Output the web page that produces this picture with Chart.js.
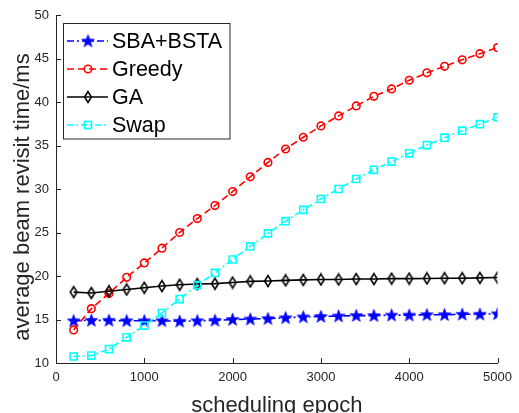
<!DOCTYPE html>
<html>
<head>
<meta charset="utf-8">
<script src="https://cdn.jsdelivr.net/npm/chart.js@4/dist/chart.umd.min.js"></script>
<style>
  html, body { margin: 0; padding: 0; background: #ffffff; }
  #wrap { width: 519px; height: 413px; }
</style>
</head>
<body>
<div id="wrap"><canvas id="c" width="519" height="413"></canvas></div>
<script>
// ---------- data ----------
const epochs = [200, 400, 600, 800, 1000, 1200, 1400, 1600, 1800, 2000, 2200, 2400, 2600,
                2800, 3000, 3200, 3400, 3600, 3800, 4000, 4200, 4400, 4600, 4800, 5000];
const sbaBsta = [14.85, 14.9, 14.9, 14.85, 14.85, 14.85, 14.8, 14.85, 14.9, 15.0, 15.05, 15.1, 15.2,
                 15.3, 15.35, 15.4, 15.45, 15.45, 15.5, 15.5, 15.55, 15.55, 15.6, 15.6, 15.65];
const greedy = [13.8, 16.25, 18.0, 19.85, 21.5, 23.2, 25.0, 26.6, 28.1, 29.7, 31.4, 33.05, 34.6,
                35.95, 37.25, 38.4, 39.55, 40.65, 41.5, 42.5, 43.35, 44.1, 44.85, 45.55, 46.25];
const ga = [18.15, 18.05, 18.25, 18.45, 18.65, 18.85, 19.0, 19.08, 19.12, 19.25, 19.38, 19.43, 19.5,
            19.55, 19.6, 19.6, 19.65, 19.65, 19.7, 19.7, 19.72, 19.75, 19.75, 19.78, 19.82];
const swap = [10.75, 10.85, 11.6, 12.95, 14.3, 15.75, 17.35, 18.95, 20.35, 21.9, 23.4, 24.9, 26.3,
              27.6, 28.85, 30.0, 31.15, 32.2, 33.15, 34.1, 35.05, 35.9, 36.7, 37.45, 38.25];
const seriesNames = ['SBA+BSTA', 'Greedy', 'GA', 'Swap'];
const xTicks = [0, 1000, 2000, 3000, 4000, 5000];
const yTicks = [10, 15, 20, 25, 30, 35, 40, 45, 50];
const xTitle = 'scheduling epoch';
const yTitle = 'average beam revisit time/ms';

// ---------- marker images ----------
function starImage(color) {
  const c = document.createElement('canvas');
  c.width = 15; c.height = 15;
  const g = c.getContext('2d');
  const cx = 7.5, cy = 7.9, R = 6.6, r = 2.7;
  g.beginPath();
  for (let i = 0; i < 10; i++) {
    const a = -Math.PI / 2 + i * Math.PI / 5;
    const rr = i % 2 === 0 ? R : r;
    const px = cx + rr * Math.cos(a), py = cy + rr * Math.sin(a);
    if (i === 0) g.moveTo(px, py); else g.lineTo(px, py);
  }
  g.closePath();
  g.fillStyle = color; g.fill();
  g.strokeStyle = color; g.lineWidth = 0.8; g.stroke();
  return c;
}
function diamondImage(color) {
  const c = document.createElement('canvas');
  c.width = 12; c.height = 14;
  const g = c.getContext('2d');
  g.beginPath();
  g.moveTo(6, 1.6); g.lineTo(9.4, 7); g.lineTo(6, 12.4); g.lineTo(2.6, 7); g.closePath();
  g.strokeStyle = color; g.lineWidth = 1.6; g.stroke();
  return c;
}
const starImg = starImage('#0000ff');
const diamondImg = diamondImage('#000000');

function pts(ys) { return epochs.map((x, i) => ({ x: x, y: ys[i] })); }

const FONT = '"Liberation Sans", Arial, Helvetica, sans-serif';
const TXT = '#262626';
const CLEAR = 'rgba(0,0,0,0)';

// ---------- plugins ----------
const inwardTicks = {
  id: 'inwardTicks',
  afterDraw(chart) {
    const { ctx, chartArea: a, scales: { x, y } } = chart;
    ctx.save();
    ctx.strokeStyle = TXT; ctx.lineWidth = 1;
    ctx.beginPath();
    xTicks.forEach(v => { const p = Math.round(x.getPixelForValue(v)) + 0.5; ctx.moveTo(p, a.bottom); ctx.lineTo(p, a.bottom - 5); });
    yTicks.forEach(v => { const p = Math.round(y.getPixelForValue(v)) + 0.5; ctx.moveTo(a.left, p); ctx.lineTo(a.left + 5, p); });
    ctx.stroke();
    // y-axis title (placed slightly below the plot centre, as in the reference)
    ctx.fillStyle = TXT;
    ctx.font = '22px ' + FONT;
    ctx.textAlign = 'center';
    ctx.textBaseline = 'middle';
    ctx.translate(23, 197);
    ctx.rotate(-Math.PI / 2);
    ctx.fillText(yTitle, 0, 0);
    ctx.restore();
  }
};

const boxLegend = {
  id: 'boxLegend',
  afterDraw(chart) {
    const ctx = chart.ctx;
    const bx = 63.5, by = 23.5, bw = 166.5, bh = 115.5;
    ctx.save();
    ctx.fillStyle = '#ffffff';
    ctx.fillRect(bx, by, bw, bh);
    ctx.strokeStyle = TXT; ctx.lineWidth = 1;
    ctx.strokeRect(bx, by, bw, bh);
    const rowY = [41, 69, 97, 125];
    chart.data.datasets.forEach((ds, i) => {
      const yy = rowY[i];
      ctx.save();
      ctx.strokeStyle = ds.borderColor; ctx.lineWidth = ds.borderWidth;
      ctx.setLineDash(ds.borderDash || []);
      ctx.beginPath(); ctx.moveTo(67, yy); ctx.lineTo(108, yy); ctx.stroke();
      ctx.restore();
      const mx = 88;
      const st = ds.pointStyle;
      ctx.save();
      if (st instanceof HTMLCanvasElement) {
        ctx.drawImage(st, mx - st.width / 2, yy - st.height / 2);
      } else if (st === 'circle') {
        ctx.beginPath(); ctx.arc(mx, yy, ds.pointRadius, 0, Math.PI * 2);
        ctx.strokeStyle = ds.pointBorderColor; ctx.lineWidth = ds.pointBorderWidth; ctx.stroke();
      } else if (st === 'rect') {
        const s = Math.SQRT1_2 * ds.pointRadius;
        ctx.strokeStyle = ds.pointBorderColor; ctx.lineWidth = ds.pointBorderWidth; ctx.strokeRect(mx - s, yy - s, 2 * s, 2 * s);
      }
      ctx.restore();
      ctx.fillStyle = '#000000';
      ctx.font = '21.5px ' + FONT;
      ctx.textBaseline = 'middle';
      ctx.textAlign = 'left';
      ctx.fillText(ds.label, 112, yy + 1);
    });
    ctx.restore();
  }
};

new Chart(document.getElementById('c'), {
  type: 'line',
  data: {
    datasets: [
      { label: seriesNames[0], data: pts(sbaBsta), borderColor: '#0000ff', borderWidth: 1.6,
        borderDash: [7, 3, 2, 3], pointStyle: starImg, pointRadius: 7, order: 3 },
      { label: seriesNames[1], data: pts(greedy), borderColor: '#ff0000', borderWidth: 1.6,
        borderDash: [7, 4], pointStyle: 'circle', pointRadius: 3.8, pointBorderColor: '#ff0000',
        pointBackgroundColor: CLEAR, pointBorderWidth: 1.6, order: 2 },
      { label: seriesNames[2], data: pts(ga), borderColor: '#000000', borderWidth: 1.6,
        borderDash: [], pointStyle: diamondImg, pointRadius: 6, order: 1 },
      { label: seriesNames[3], data: pts(swap), borderColor: '#00ffff', borderWidth: 1.6,
        borderDash: [6, 3, 2, 3], pointStyle: 'rect', pointRadius: 5, pointBorderColor: '#00ffff',
        pointBackgroundColor: CLEAR, pointBorderWidth: 1.6, order: 0 }
    ]
  },
  options: {
    responsive: false,
    animation: false,
    devicePixelRatio: 1,
    layout: { padding: { left: 0, right: 17, top: 15, bottom: 0 } },
    plugins: { legend: { display: false }, tooltip: { enabled: false } },
    elements: { line: { tension: 0, fill: false }, point: { hoverRadius: 0 } },
    scales: {
      x: {
        type: 'linear', min: 0, max: 5000,
        afterFit(s) { s.height = 50; },
        afterBuildTicks(s) { s.ticks = xTicks.map(v => ({ value: v })); },
        grid: { display: false, drawTicks: false },
        border: { display: true, color: TXT, width: 1 },
        ticks: { color: TXT, font: { family: FONT, size: 13 }, padding: 7, maxRotation: 0,
                 callback: v => String(v) },
        title: { display: true, text: xTitle, color: TXT, font: { family: FONT, size: 22, lineHeight: 1 }, padding: { top: 0, bottom: -3.5 } }
      },
      y: {
        type: 'linear', min: 10, max: 50,
        afterFit(s) { s.width = 56; },
        afterBuildTicks(s) { s.ticks = yTicks.map(v => ({ value: v })); },
        grid: { display: false, drawTicks: false },
        border: { display: true, color: TXT, width: 1 },
        ticks: { color: TXT, font: { family: FONT, size: 13 }, padding: 7, callback: v => String(v) },
        title: { display: false }
      }
    }
  },
  plugins: [inwardTicks, boxLegend]
});
</script>
</body>
</html>
